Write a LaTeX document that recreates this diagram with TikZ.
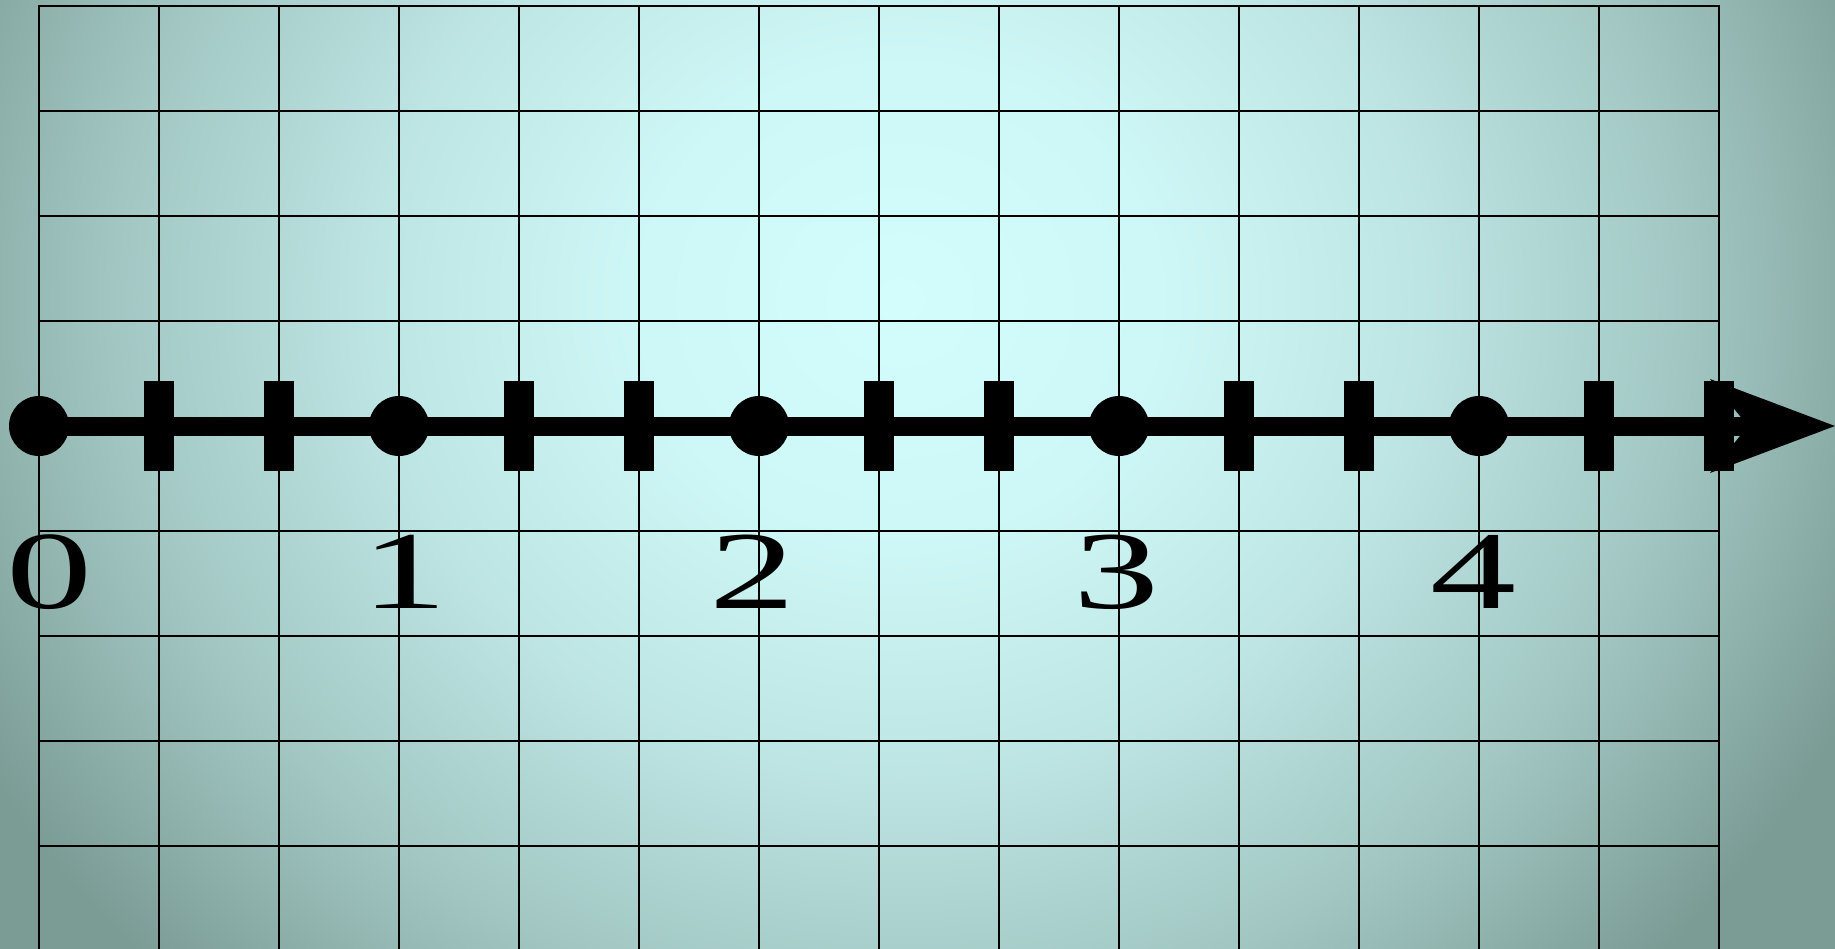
\documentclass[tikz,border=0pt]{standalone}
\usepackage{fontspec}
\setmainfont{Liberation Serif}
\definecolor{bginner}{HTML}{D3FDFD}
\definecolor{bgouter}{HTML}{7B9C95}
\pgfdeclareradialshading{bgshade}{\pgfpoint{0bp}{0bp}}{%
  color(0bp)=(bginner);
  color(6.25bp)=(bginner!94!bgouter);
  color(12.5bp)=(bginner!75!bgouter);
  color(18.75bp)=(bginner!44!bgouter);
  color(25bp)=(bgouter);
  color(50bp)=(bgouter)}
\begin{document}
\begin{tikzpicture}[x=1pt,y=-1pt,
  gridline/.style={line width=1.5pt,line cap=rect},
  tickmark/.style={fill=black},
  dotmark/.style={circle,fill=black,minimum size=60pt,inner sep=0pt},
  numlabel/.style={font=\fontsize{111}{111}\selectfont,inner sep=0pt,anchor=base}]
\useasboundingbox (0,0) rectangle (1835,948);
\begin{scope}
  \clip (0,0) rectangle (1835,948);
  \shade[shading=bgshade] (-150,-650) rectangle (1950,1250);
  % grid
  \foreach \i in {0,...,14} \draw[gridline] (39+120*\i,6) -- (39+120*\i,960);
  \foreach \j in {0,...,8} \draw[gridline] (39,6+105*\j) -- (1719,6+105*\j);
\end{scope}
% axis
\coordinate (axisstart) at (39,426);
\coordinate (notch) at (1748,426);
\coordinate (tip) at (1835,426);
\coordinate (barbup) at (1710,379);
\coordinate (barbdown) at (1710,473);
\draw[line width=19pt] (axisstart) -- (notch);
\fill (tip) -- (barbup) -- (notch) -- (barbdown) -- cycle;
% ticks
\foreach \k in {1,2,4,5,7,8,10,11,13,14}
  \fill[tickmark] (39+120*\k-15,381) rectangle ++(30,90);
% dots
\foreach \k/\n in {0/0,3/1,6/2,9/3,12/4}
  \node[dotmark] (dot\n) at (39+120*\k,426) {};
% labels
\node[numlabel] (lab0) at (50,608) {\scalebox{1.55}[1]{0}};
\node[numlabel] (lab1) at (405,608) {\scalebox{1.55}[1]{1}};
\node[numlabel] (lab2) at (753,608) {\scalebox{1.55}[1]{2}};
\node[numlabel] (lab3) at (1116,608) {\scalebox{1.55}[1]{3}};
\node[numlabel] (lab4) at (1473,608) {\scalebox{1.55}[1]{4}};
\end{tikzpicture}
\end{document}
